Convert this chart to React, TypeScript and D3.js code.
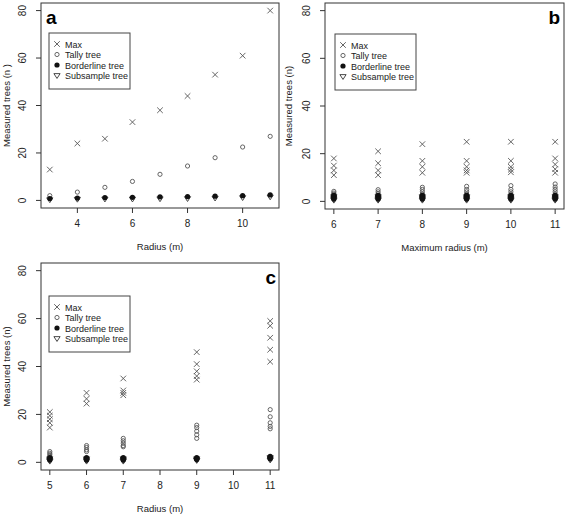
import React from "react";
import * as d3 from "d3";

// ---------- DATA ----------
const aX = [3, 4, 5, 6, 7, 8, 9, 10, 11];
const aMax = [13, 24, 26, 33, 38, 44, 53, 61, 80];
const aTally = [2, 3.5, 5.5, 8, 11, 14.5, 18, 22.5, 27];
const aBorder = [0.8, 1, 1.2, 1.3, 1.5, 1.6, 1.8, 2, 2.3];
const aSub = [0.3, 0.5, 0.6, 0.6, 0.7, 0.8, 1, 1.2, 1.5];

const bX = [6, 7, 8, 9, 10, 11];
const bMax = [
  [18, 15, 13, 11],
  [21, 16, 13, 11],
  [24, 17, 14.5, 12],
  [25, 17, 14.5, 13, 12],
  [25, 17, 14.5, 13.3, 12.2],
  [25, 18, 15.5, 13.5, 12],
];
const bTally = [
  [4.2, 3.5, 3, 2.5, 2],
  [4.9, 4, 3.2, 2.5],
  [5.9, 5, 4, 3, 2.5],
  [6.3, 5, 4, 3, 2.5],
  [6.6, 5, 4, 3, 2.5],
  [7.3, 6, 5, 4, 3],
];
const bBorder = [
  [2.5, 2, 1.5, 1],
  [2.5, 2, 1.5, 1],
  [2.5, 2, 1.5, 1],
  [2.5, 2, 1.5, 1],
  [2.5, 2, 1.5, 1],
  [2.5, 2, 1.5, 1],
];
const bSub = [
  [2, 1.5, 1, 0.5],
  [2, 1.5, 1, 0.5],
  [2, 1.5, 1, 0.5],
  [2, 1.5, 1, 0.5],
  [2, 1.5, 1, 0.5],
  [2, 1.5, 1, 0.5],
];

const cX = [5, 6, 7, 9, 11];
const cMax = [
  [21, 19.5, 18, 16.5, 14.5],
  [29, 26.5, 24.5],
  [35, 30, 29, 28],
  [46, 41, 38, 36, 34.5],
  [59, 57, 52, 47, 42],
];
const cTally = [
  [4.5, 3.8, 3.2, 2.5],
  [7, 6.2, 5.2, 4.5],
  [10, 9, 8, 7, 6.5],
  [15.5, 14.5, 13, 11.5, 10],
  [22, 19, 16.5, 15, 14],
];
const cBorder = [
  [2, 1.5, 1],
  [2, 1.5, 1],
  [2, 1.5, 1],
  [2, 1.5, 1.2],
  [2.5, 2, 1.5],
];
const cSub = [
  [1.5, 1, 0.5],
  [1.5, 1, 0.5],
  [1.5, 1, 0.5],
  [1.5, 1, 0.8],
  [2, 1.5, 1],
];

const yTicks = [0, 20, 40, 60, 80];
const aXTicks = [4, 6, 8, 10];
const bXTicks = [6, 7, 8, 9, 10, 11];
const cXTicks = [5, 6, 7, 8, 9, 10, 11];
const legendLabels = ["Max", "Tally tree", "Borderline tree", "Subsample tree"];

// ---------- DRAWING ----------
const FONT = "Liberation Sans, Arial, sans-serif";
const MARK = "#555";

type Sym = "x" | "o" | "dot" | "tri";

function Marker({ sym, x, y }: { sym: Sym; x: number; y: number }) {
  if (sym === "x") {
    const s = 2.8;
    return (
      <path
        d={`M${x - s},${y - s}L${x + s},${y + s}M${x - s},${y + s}L${x + s},${y - s}`}
        stroke={MARK}
        strokeWidth={0.9}
        fill="none"
      />
    );
  }
  if (sym === "o") {
    return <circle cx={x} cy={y} r={2.1} stroke={MARK} strokeWidth={0.9} fill="none" />;
  }
  if (sym === "dot") {
    return <circle cx={x} cy={y} r={2.6} fill="#111" />;
  }
  const s = 3.1;
  return (
    <path
      d={`M${x - s},${y - s * 0.6}L${x + s},${y - s * 0.6}L${x},${y + s * 0.95}Z`}
      stroke="#333"
      strokeWidth={0.9}
      fill="none"
    />
  );
}

type PanelProps = {
  left: number;
  right: number;
  top: number;
  bottom: number;
  xDomain: [number, number];
  xTicks: number[];
  xs: number[];
  series: { sym: Sym; values: (number | number[])[] }[];
  xTitle: string;
  yTitle: string;
  letter: string;
  letterX: number;
  letterAnchor: string;
  legendX: number;
  legendY: number;
  yTitleX: number;
};

function Panel(p: PanelProps) {
  const pad = (p.xDomain[1] - p.xDomain[0]) * 0.04;
  const x = d3
    .scaleLinear()
    .domain([p.xDomain[0] - pad, p.xDomain[1] + pad])
    .range([p.left, p.right]);
  const y = d3.scaleLinear().domain([-3.2, 83.2]).range([p.bottom, p.top]);
  const syms: Sym[] = ["x", "o", "dot", "tri"];
  return (
    <g fontFamily={FONT}>
      <rect
        x={p.left}
        y={p.top}
        width={p.right - p.left}
        height={p.bottom - p.top}
        fill="none"
        stroke="#333"
        strokeWidth={1}
      />
      {/* y axis */}
      {yTicks.map((t) => (
        <g key={"y" + t}>
          <line x1={p.left - 5} x2={p.left} y1={y(t)} y2={y(t)} stroke="#333" />
          <text
            transform={`translate(${p.left - 15},${y(t)}) rotate(-90)`}
            textAnchor="middle"
            fontSize={10}
            fill="#222"
          >
            {t}
          </text>
        </g>
      ))}
      {/* x axis */}
      {p.xTicks.map((t) => (
        <g key={"x" + t}>
          <line x1={x(t)} x2={x(t)} y1={p.bottom} y2={p.bottom + 5} stroke="#333" />
          <text x={x(t)} y={p.bottom + 19} textAnchor="middle" fontSize={10} fill="#222">
            {t}
          </text>
        </g>
      ))}
      <text
        x={(p.left + p.right) / 2}
        y={p.bottom + 42}
        textAnchor="middle"
        fontSize={9.5}
        fill="#222"
      >
        {p.xTitle}
      </text>
      <text
        transform={`translate(${p.yTitleX},${(p.top + p.bottom) / 2}) rotate(-90)`}
        textAnchor="middle"
        fontSize={9.5}
        fill="#222"
      >
        {p.yTitle}
      </text>
      {/* points */}
      {p.series.map((s, si) =>
        s.values.map((v, i) => {
          const arr = Array.isArray(v) ? v : [v];
          return arr.map((val, j) => (
            <Marker key={`${si}-${i}-${j}`} sym={s.sym} x={x(p.xs[i])} y={y(val)} />
          ));
        })
      )}
      {/* letter */}
      <text
        x={p.letterX}
        y={p.top + 21}
        textAnchor={p.letterAnchor}
        fontSize={19}
        fontWeight="bold"
        fill="#000"
      >
        {p.letter}
      </text>
      {/* legend */}
      <g transform={`translate(${p.legendX},${p.legendY})`}>
        <rect x={0} y={0} width={81} height={56} fill="white" stroke="#444" strokeWidth={1} />
        {legendLabels.map((lab, i) => {
          const ly = 11 + i * 10.5;
          return (
            <g key={lab}>
              <Marker sym={syms[i]} x={8} y={ly} />
              <text x={16} y={ly + 3.5} fontSize={9} fill="#222">
                {lab}
              </text>
            </g>
          );
        })}
      </g>
    </g>
  );
}

export default function App() {
  return (
    <svg width={567} height={514} style={{ position: "absolute", left: 0, top: 0, background: "white" }}>
      <rect x={0} y={0} width={567} height={514} fill="white" />
      <Panel
        left={41}
        right={279}
        top={3}
        bottom={208}
        xDomain={[3, 11]}
        xTicks={aXTicks}
        xs={aX}
        series={[
          { sym: "x", values: aMax },
          { sym: "o", values: aTally },
          { sym: "tri", values: aSub },
          { sym: "dot", values: aBorder },
        ]}
        xTitle="Radius (m)"
        yTitle="Measured trees (n )"
        letter="a"
        letterX={46}
        letterAnchor="start"
        legendX={49}
        legendY={33}
        yTitleX={10}
      />
      <Panel
        left={325}
        right={564}
        top={3}
        bottom={209}
        xDomain={[6, 11]}
        xTicks={bXTicks}
        xs={bX}
        series={[
          { sym: "x", values: bMax },
          { sym: "o", values: bTally },
          { sym: "tri", values: bSub },
          { sym: "dot", values: bBorder },
        ]}
        xTitle="Maximum radius (m)"
        yTitle="Measured trees (n)"
        letterX={560}
        letter="b"
        letterAnchor="end"
        legendX={335}
        legendY={34}
        yTitleX={292}
      />
      <Panel
        left={41}
        right={279}
        top={263}
        bottom={470}
        xDomain={[5, 11]}
        xTicks={cXTicks}
        xs={cX}
        series={[
          { sym: "x", values: cMax },
          { sym: "o", values: cTally },
          { sym: "tri", values: cSub },
          { sym: "dot", values: cBorder },
        ]}
        xTitle="Radius (m)"
        yTitle="Measured trees (n)"
        letter="c"
        letterX={276}
        letterAnchor="end"
        legendX={49}
        legendY={296}
        yTitleX={10}
      />
    </svg>
  );
}
